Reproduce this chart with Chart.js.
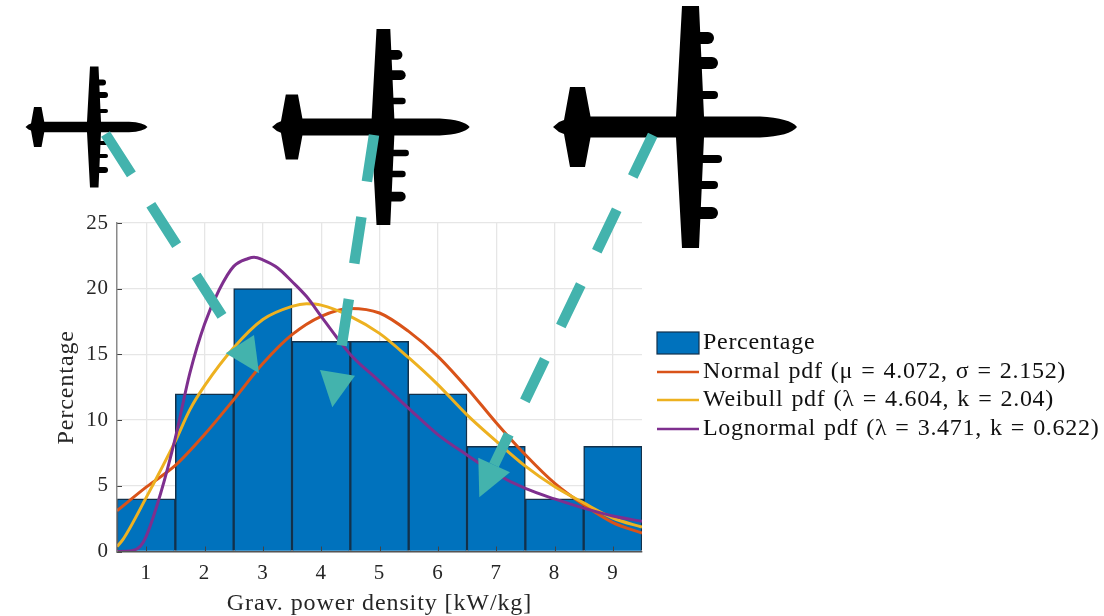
<!DOCTYPE html>
<html>
<head>
<meta charset="utf-8">
<title>Grav. power density</title>
<style>
  html, body { margin: 0; padding: 0; background: #fff; }
  canvas { display: block; }
</style>
<script src="https://cdn.jsdelivr.net/npm/chart.js@4"></script>
</head>
<body>
<canvas id="chart" width="1104" height="616"></canvas>
<script>
const bins = [1, 2, 3, 4, 5, 6, 7, 8, 9];
const percentages = [4, 12, 20, 16, 16, 12, 8, 4, 8];

const normalX = [0.5, 1, 1.5, 2, 2.5, 3, 3.5, 4, 4.5, 5, 5.5, 6, 6.5, 7, 7.5, 8, 8.5, 9, 9.5];
const normalY = [3.1, 4.9, 6.55, 8.9, 11.55, 14.3, 16.5, 17.9, 18.5, 18.15, 16.75, 14.85, 12.45, 9.8, 7.36, 5.2, 3.55, 2.2, 1.4];

const weibullX = [0.5, 0.6, 1, 1.5, 1.75, 2, 2.5, 3, 3.5, 3.75, 4, 4.5, 5, 5.5, 6, 6.5, 7, 7.5, 8, 8.5, 9, 9.5];
const weibullY = [0.38, 0.9, 4.1, 8.4, 10.8, 12.6, 15.5, 17.65, 18.65, 18.85, 18.75, 17.9, 16.6, 14.75, 12.7, 10.4, 8.4, 6.5, 4.95, 3.7, 2.55, 1.85];

const lognormalX = [0.5, 0.75, 0.9, 1, 1.25, 1.5, 1.75, 2, 2.25, 2.5, 2.75, 2.85, 3, 3.25, 3.5, 3.75, 4, 4.25, 4.5, 5, 5.5, 6, 6.5, 7, 7.5, 8, 8.5, 9, 9.5];
const lognormalY = [0, 0.05, 0.4, 1.15, 4.45, 8.65, 13.6, 17.3, 19.9, 21.7, 22.3, 22.4, 22.2, 21.6, 20.55, 19.4, 17.9, 16.4, 15, 12.95, 10.9, 8.9, 7.35, 5.9, 4.8, 4, 3.3, 2.7, 2.3];

const xTicks = [1, 2, 3, 4, 5, 6, 7, 8, 9];
const yTicks = [0, 5, 10, 15, 20, 25];
const xTitle = "Grav. power density [kW/kg]";
const yTitle = "Percentage";
const legendLabels = [
  "Percentage",
  "Normal pdf (μ = 4.072, σ = 2.152)",
  "Weibull pdf (λ = 4.604, k = 2.04)",
  "Lognormal pdf (λ = 3.471, k = 0.622)"
];

const BLUE = "#0072BD";
const RED = "#D95319";
const YELLOW = "#EDB120";
const PURPLE = "#7E2F8E";
const TEAL = "#43B3AD";
const SERIF = "'Liberation Serif', serif";
const TEXT = "#262626";

function toPoints(xs, ys) {
  return xs.map((x, i) => ({ x: x, y: ys[i] }));
}

// plane outline, around the wing centre, at the size of the biggest plane
function planePath() {
  const p = new Path2D();
  p.moveTo(-137, 0);
  p.lineTo(-131, -5);
  p.lineTo(-126, -7);
  p.lineTo(-120, -40);
  p.lineTo(-105, -40);
  p.lineTo(-99.5, -10.5);
  p.lineTo(-14, -10.5);
  p.lineTo(-8, -121);
  p.lineTo(9, -121);
  p.lineTo(14, -10.5);
  p.lineTo(70, -10.5);
  p.quadraticCurveTo(100, -9, 107, 0);
  p.quadraticCurveTo(100, 9, 70, 10.5);
  p.lineTo(14, 10.5);
  p.lineTo(9, 121);
  p.lineTo(-8, 121);
  p.lineTo(-14, 10.5);
  p.lineTo(-99.5, 10.5);
  p.lineTo(-105, 40);
  p.lineTo(-120, 40);
  p.lineTo(-126, 7);
  p.lineTo(-131, 5);
  p.closePath();
  return p;
}

const engines = [[-89, 24, 12], [-64, 28, 12], [-32, 28, 8], [32, 32, 8], [58, 28, 8], [86, 28, 12]];

function drawPlane(ctx, cx, cy, s) {
  ctx.save();
  ctx.translate(cx, cy);
  ctx.scale(s, s);
  ctx.fillStyle = "#000";
  ctx.fill(planePath());
  ctx.strokeStyle = "#000";
  ctx.lineCap = "round";
  engines.forEach(e => {
    ctx.lineWidth = e[2];
    ctx.beginPath();
    ctx.moveTo(8, e[0]);
    ctx.lineTo(e[1] - e[2] / 2, e[0]);
    ctx.stroke();
  });
  ctx.restore();
}

function drawArrow(ctx, a) {
  ctx.save();
  ctx.strokeStyle = TEAL;
  ctx.fillStyle = TEAL;
  ctx.lineWidth = 10.5;
  ctx.lineCap = "butt";
  ctx.setLineDash(a.dash);
  ctx.beginPath();
  ctx.moveTo(a.from[0], a.from[1]);
  ctx.lineTo(a.to[0], a.to[1]);
  ctx.stroke();
  ctx.setLineDash([]);
  ctx.beginPath();
  ctx.moveTo(a.head[0][0], a.head[0][1]);
  ctx.lineTo(a.head[1][0], a.head[1][1]);
  ctx.lineTo(a.head[2][0], a.head[2][1]);
  ctx.closePath();
  ctx.fill();
  ctx.restore();
}

const planes = [
  { x: 94, y: 127, s: 0.5 },
  { x: 383, y: 127, s: 0.81 },
  { x: 690, y: 127, s: 1 }
];

const arrows = [
  { from: [105.5, 134], to: [240, 344], dash: [48, 36], head: [[225.7, 353.3], [254, 335], [259, 373.3]] },
  { from: [374, 135], to: [337.5, 373], dash: [47, 36], head: [[320, 370], [355, 375.7], [332.3, 407.3]] },
  { from: [652.7, 135], to: [494, 465], dash: [46, 37], head: [[478.3, 457.7], [510, 472.3], [479.3, 497.3]] }
];

const textSpacing = {
  id: "textSpacing",
  beforeDraw(chart) {
    chart.ctx.letterSpacing = "0.9px";
  }
};

// inward tick marks sit on top of the bars
const innerTicks = {
  id: "innerTicks",
  afterDatasetsDraw(chart) {
    const ctx = chart.ctx;
    const area = chart.chartArea;
    ctx.save();
    ctx.strokeStyle = "#444";
    ctx.lineWidth = 1;
    xTicks.forEach(t => {
      const px = Math.round(chart.scales.x.getPixelForValue(t)) + 0.5;
      ctx.beginPath();
      ctx.moveTo(px, area.bottom);
      ctx.lineTo(px, area.bottom - 5);
      ctx.stroke();
    });
    yTicks.forEach(t => {
      const py = Math.round(chart.scales.y.getPixelForValue(t)) + 0.5;
      ctx.beginPath();
      ctx.moveTo(area.left, py);
      ctx.lineTo(area.left + 5, py);
      ctx.stroke();
    });
    ctx.restore();
  }
};

const legendAndArt = {
  id: "legendAndArt",
  afterDraw(chart) {
    const ctx = chart.ctx;
    planes.forEach(p => drawPlane(ctx, p.x, p.y, p.s));

    // legend
    const rows = [343, 372, 400, 429];
    ctx.save();
    ctx.fillStyle = BLUE;
    ctx.strokeStyle = "#12314b";
    ctx.lineWidth = 1.2;
    ctx.fillRect(657, 332, 42, 22);
    ctx.strokeRect(657, 332, 42, 22);
    [RED, YELLOW, PURPLE].forEach((c, i) => {
      ctx.strokeStyle = c;
      ctx.lineWidth = 2.5;
      ctx.beginPath();
      ctx.moveTo(657, rows[i + 1]);
      ctx.lineTo(699, rows[i + 1]);
      ctx.stroke();
    });
    ctx.fillStyle = "#111";
    ctx.font = "24px " + SERIF;
    ctx.letterSpacing = "0.7px";
    ctx.wordSpacing = "1.4px";
    ctx.textAlign = "left";
    ctx.textBaseline = "middle";
    legendLabels.forEach((t, i) => ctx.fillText(t, 703, rows[i]));
    ctx.restore();

    arrows.forEach(a => drawArrow(ctx, a));
  }
};

new Chart(document.getElementById("chart"), {
  type: "bar",
  data: {
    datasets: [
      {
        label: legendLabels[0],
        data: toPoints(bins, percentages),
        backgroundColor: BLUE,
        borderColor: "#12314b",
        borderWidth: 1.5,
        barPercentage: 1,
        categoryPercentage: 1,
        order: 4
      },
      { type: "line", label: legendLabels[1], data: toPoints(normalX, normalY), borderColor: RED, borderWidth: 3, pointRadius: 0, cubicInterpolationMode: "monotone", order: 3 },
      { type: "line", label: legendLabels[2], data: toPoints(weibullX, weibullY), borderColor: YELLOW, borderWidth: 3, pointRadius: 0, cubicInterpolationMode: "monotone", order: 2 },
      { type: "line", label: legendLabels[3], data: toPoints(lognormalX, lognormalY), borderColor: PURPLE, borderWidth: 3, pointRadius: 0, cubicInterpolationMode: "monotone", order: 1 }
    ]
  },
  options: {
    responsive: false,
    animation: false,
    layout: { padding: { top: 223, right: 462, left: 0, bottom: 0 } },
    plugins: {
      legend: { display: false },
      tooltip: { enabled: false }
    },
    scales: {
      x: {
        type: "linear",
        min: 0.5,
        max: 9.5,
        offset: false,
        afterBuildTicks(axis) { axis.ticks = xTicks.map(v => ({ value: v })); },
        afterFit(axis) { axis.height = 64.5; },
        grid: { color: "#e6e6e6", lineWidth: 1.3, offset: false, drawTicks: false },
        border: { color: "#555", width: 1.5, z: 1 },
        ticks: { color: TEXT, font: { family: SERIF, size: 21 }, padding: 9, maxRotation: 0, autoSkip: false },
        title: { display: true, text: xTitle, color: TEXT, font: { family: SERIF, size: 24 }, padding: { top: 0, bottom: -2 } }
      },
      y: {
        min: 0,
        max: 25,
        afterBuildTicks(axis) { axis.ticks = yTicks.map(v => ({ value: v })); },
        afterFit(axis) { axis.width = 117; },
        grid: { color: "#e6e6e6", lineWidth: 1.3, drawTicks: false },
        border: { color: "#8a8a8a", width: 1.5, z: 1 },
        ticks: { color: TEXT, font: { family: SERIF, size: 21 }, padding: 8 },
        title: { display: true, text: yTitle, color: TEXT, font: { family: SERIF, size: 24 }, padding: { top: 52, bottom: 0 } }
      }
    }
  },
  plugins: [textSpacing, innerTicks, legendAndArt]
});
</script>
</body>
</html>
